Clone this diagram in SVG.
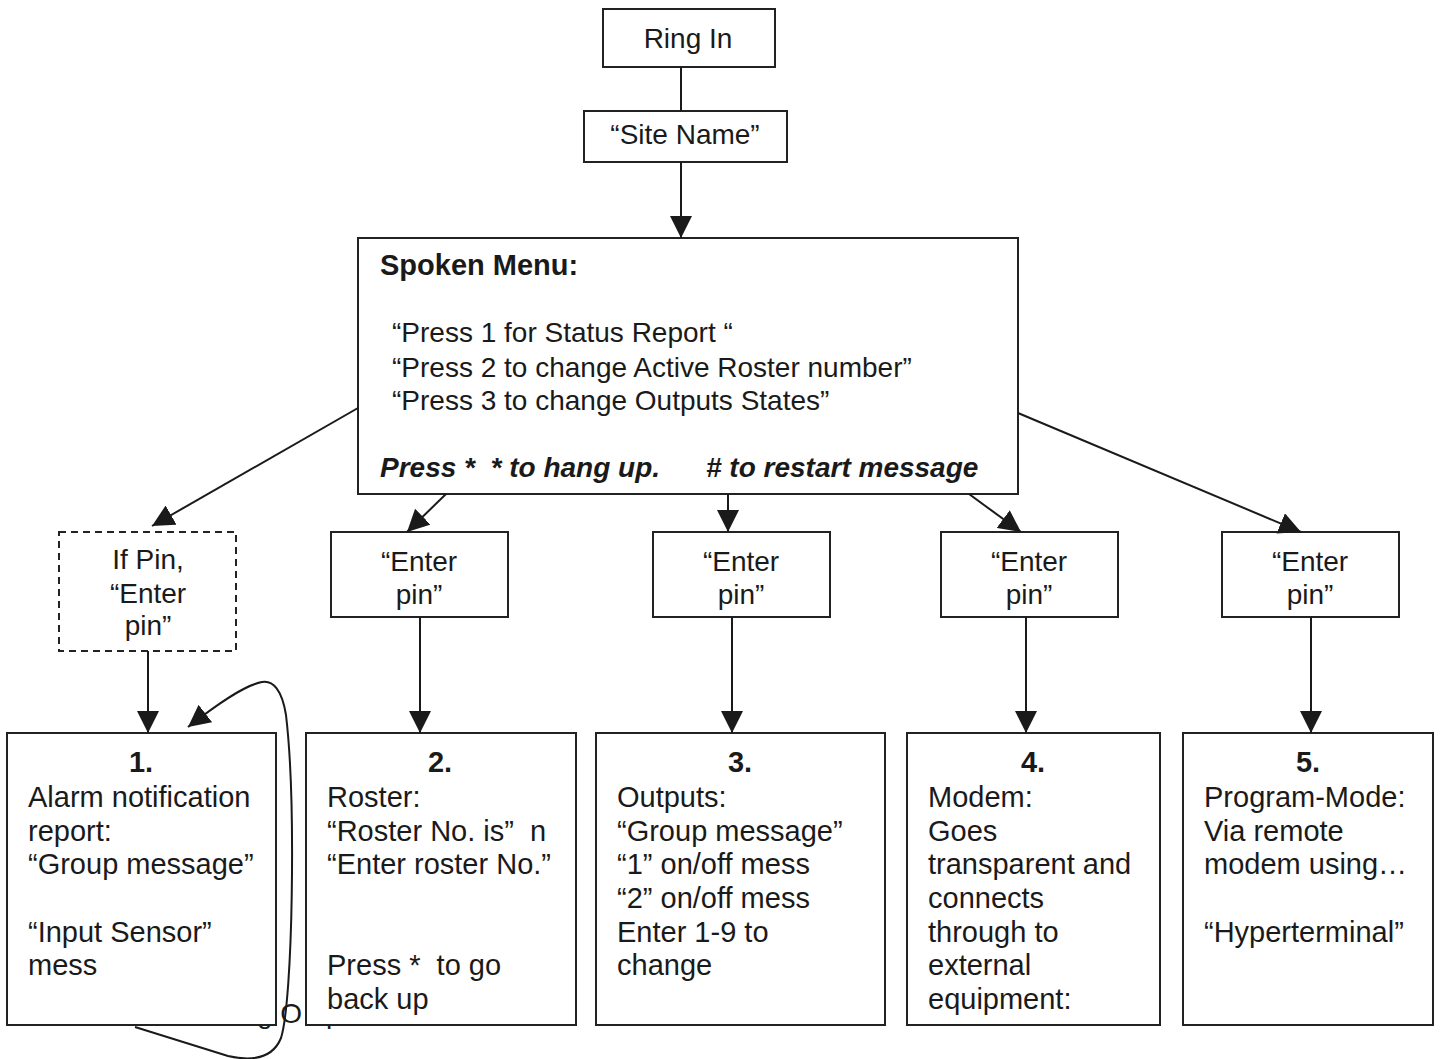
<svg xmlns="http://www.w3.org/2000/svg" width="1442" height="1059" viewBox="0 0 1442 1059">
<style>
  text { font-family: "Liberation Sans", Arial, sans-serif; fill: #1a1a1a; white-space: pre; }
  .box { fill: #ffffff; stroke: #222222; stroke-width: 2; }
  .dash { fill: #ffffff; stroke: #222222; stroke-width: 2; stroke-dasharray: 7 5; }
  .t { font-size: 28px; }
  .c { text-anchor: middle; }
  .b { font-size: 29px; }
  .num { font-size: 29px; font-weight: bold; text-anchor: middle; }
  .conn { fill: none; stroke: #1a1a1a; stroke-width: 2; }
</style>
<defs>
  <marker id="ah" markerUnits="userSpaceOnUse" markerWidth="22" markerHeight="22" viewBox="0 0 20 20" refX="20" refY="10" orient="auto">
    <path d="M0,0 L20,10 L0,20 z" fill="#1a1a1a"/>
  </marker>
</defs>

<text class="t" x="257" y="1023">g O<tspan x="326">p</tspan></text>

<g id="ring-in">
  <rect class="box" x="603" y="9" width="172" height="58"/>
  <text class="t c" x="688" y="48">Ring In</text>
</g>
<g id="site-name">
  <rect class="box" x="584" y="111" width="203" height="51"/>
  <text class="t c" x="685" y="144">“Site Name”</text>
</g>
<g id="spoken-menu">
  <rect class="box" x="358" y="238" width="660" height="256"/>
  <text x="380" y="275" style="font-size:29px;font-weight:bold">Spoken Menu:</text>
  <text class="t" x="392" y="342">“Press 1 for Status Report “</text>
  <text class="t" x="392" y="377">“Press 2 to change Active Roster number”</text>
  <text class="t" x="392" y="410">“Press 3 to change Outputs States”</text>
  <text x="380" y="477" style="font-size:28px;font-weight:bold;font-style:italic">Press *  * to hang up.<tspan x="706"># to restart message</tspan></text>
</g>
<g id="if-pin">
  <rect class="dash" x="59" y="532" width="177" height="119"/>
  <text class="t c" x="148" y="569">If Pin,</text>
  <text class="t c" x="148" y="603">“Enter</text>
  <text class="t c" x="148" y="635">pin”</text>
</g>
<g id="enter-pin-2">
  <rect class="box" x="331" y="532" width="177" height="85"/>
  <text class="t c" x="419" y="571">“Enter</text>
  <text class="t c" x="419" y="604">pin”</text>
</g>
<g id="enter-pin-3">
  <rect class="box" x="653" y="532" width="177" height="85"/>
  <text class="t c" x="741" y="571">“Enter</text>
  <text class="t c" x="741" y="604">pin”</text>
</g>
<g id="enter-pin-4">
  <rect class="box" x="941" y="532" width="177" height="85"/>
  <text class="t c" x="1029" y="571">“Enter</text>
  <text class="t c" x="1029" y="604">pin”</text>
</g>
<g id="enter-pin-5">
  <rect class="box" x="1222" y="532" width="177" height="85"/>
  <text class="t c" x="1310" y="571">“Enter</text>
  <text class="t c" x="1310" y="604">pin”</text>
</g>

<g id="node-1">
  <rect class="box" x="7" y="733" width="269" height="292"/>
  <text class="num" x="141" y="772">1.</text>
  <text class="b" x="28" y="807">Alarm notification</text>
  <text class="b" x="28" y="841">report:</text>
  <text class="b" x="28" y="874">“Group message”</text>
  <text class="b" x="28" y="942">“Input Sensor”</text>
  <text class="b" x="28" y="975">mess</text>
</g>
<g id="node-2">
  <rect class="box" x="306" y="733" width="270" height="292"/>
  <text class="num" x="440" y="772">2.</text>
  <text class="b" x="327" y="807">Roster:</text>
  <text class="b" x="327" y="841">“Roster No. is”  n</text>
  <text class="b" x="327" y="874">“Enter roster No.”</text>
  <text class="b" x="327" y="975">Press *  to go</text>
  <text class="b" x="327" y="1009">back up</text>
</g>
<g id="node-3">
  <rect class="box" x="596" y="733" width="289" height="292"/>
  <text class="num" x="740" y="772">3.</text>
  <text class="b" x="617" y="807">Outputs:</text>
  <text class="b" x="617" y="841">“Group message”</text>
  <text class="b" x="617" y="874">“1” on/off mess</text>
  <text class="b" x="617" y="908">“2” on/off mess</text>
  <text class="b" x="617" y="942">Enter 1-9 to</text>
  <text class="b" x="617" y="975">change</text>
</g>
<g id="node-4">
  <rect class="box" x="907" y="733" width="253" height="292"/>
  <text class="num" x="1033" y="772">4.</text>
  <text class="b" x="928" y="807">Modem:</text>
  <text class="b" x="928" y="841">Goes</text>
  <text class="b" x="928" y="874">transparent and</text>
  <text class="b" x="928" y="908">connects</text>
  <text class="b" x="928" y="942">through to</text>
  <text class="b" x="928" y="975">external</text>
  <text class="b" x="928" y="1009">equipment:</text>
</g>
<g id="node-5">
  <rect class="box" x="1183" y="733" width="250" height="292"/>
  <text class="num" x="1308" y="772">5.</text>
  <text class="b" x="1204" y="807">Program-Mode:</text>
  <text class="b" x="1204" y="841">Via remote</text>
  <text class="b" x="1204" y="874">modem using…</text>
  <text class="b" x="1204" y="942">“Hyperterminal”</text>
</g>

<g id="connectors">
  <line class="conn" x1="681" y1="67" x2="681" y2="111"/>
  <line class="conn" x1="681" y1="162" x2="681" y2="238" marker-end="url(#ah)"/>
  <line class="conn" x1="358" y1="408" x2="152" y2="526" marker-end="url(#ah)"/>
  <line class="conn" x1="446" y1="494" x2="407" y2="532" marker-end="url(#ah)"/>
  <line class="conn" x1="728" y1="494" x2="728" y2="532" marker-end="url(#ah)"/>
  <line class="conn" x1="969" y1="494" x2="1021" y2="532" marker-end="url(#ah)"/>
  <line class="conn" x1="1018" y1="413" x2="1301" y2="532" marker-end="url(#ah)"/>
  <line class="conn" x1="148" y1="651" x2="148" y2="733" marker-end="url(#ah)"/>
  <line class="conn" x1="420" y1="617" x2="420" y2="733" marker-end="url(#ah)"/>
  <line class="conn" x1="732" y1="617" x2="732" y2="733" marker-end="url(#ah)"/>
  <line class="conn" x1="1026" y1="617" x2="1026" y2="733" marker-end="url(#ah)"/>
  <line class="conn" x1="1311" y1="617" x2="1311" y2="733" marker-end="url(#ah)"/>
  <path class="conn" d="M135,1027 L228,1056 C250,1061 272,1060 281,1038 C293,1000 296,800 286,715 C282,690 273,680 262,682 C245,685 220,702 188,727" marker-end="url(#ah)"/>
</g>
</svg>
